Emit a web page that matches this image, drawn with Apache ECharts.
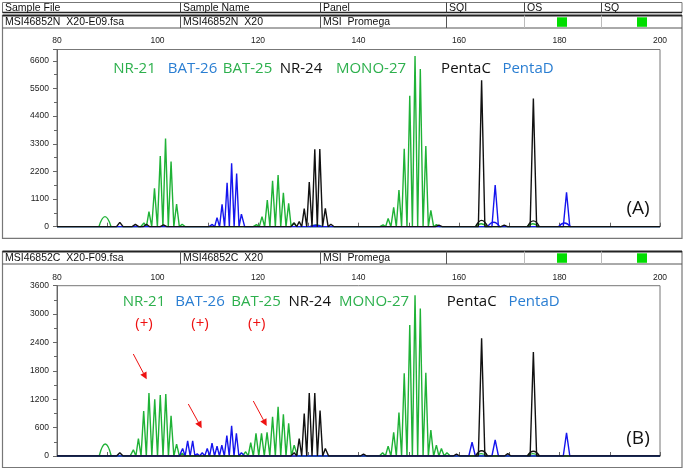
<!DOCTYPE html>
<html><head><meta charset="utf-8">
<script src="https://cdn.jsdelivr.net/npm/echarts@6/dist/echarts.min.js"></script>
<style>html,body{margin:0;padding:0;background:#fff}#c{width:685px;height:470px}</style>
</head><body><div id="c"></div>
<script>
// ---------- tick labels ----------
const xLabels = [80, 100, 120, 140, 160, 180, 200];
const yLabelsA = [0, 1100, 2200, 3300, 4400, 5500, 6600];
const yLabelsB = [0, 600, 1200, 1800, 2400, 3000, 3600];

// ---------- header texts ----------
const headerCols = ['Sample File', 'Sample Name', 'Panel', 'SQI', 'OS', 'SQ'];
const rowA = ['MSI46852N  X20-E09.fsa', 'MSI46852N  X20', 'MSI  Promega'];
const rowB = ['MSI46852C  X20-F09.fsa', 'MSI46852C  X20', 'MSI  Promega'];

// ---------- marker names ----------
const markers = ['NR-21', 'BAT-26', 'BAT-25', 'NR-24', 'MONO-27', 'PentaC', 'PentaD'];
const markerDye = ['green', 'blue', 'green', 'black', 'green', 'black', 'blue'];
const statusB = ['(+)', '(+)', '(+)'];

// ---------- panel A peaks (size in bp, height in RFU) ----------
const A_green_size = [97.3, 98.3, 99.4, 100.55, 101.6, 102.7, 103.8, 104.9, 119.7, 120.8, 121.85, 122.9, 124.0, 125.05, 126.1, 127.1, 144.9, 145.9, 147.0, 148.05, 149.1, 150.2, 151.25, 152.3, 153.4, 154.4, 155.5];
const A_green_rfu  = [150, 600, 1530, 2810, 3510, 2590, 900, 100, 80, 400, 1060, 1830, 2060, 1350, 930, 150, 70, 330, 770, 1460, 3100, 5210, 6790, 6270, 3210, 650, 80];
const A_green_broad_size = [89.55, 131.6, 164.4, 174.7];
const A_green_broad_rfu  = [400, 70, 120, 120];
const A_blue_size = [110.9, 111.85, 112.85, 113.85, 114.75, 115.75, 116.7, 167.2, 181.4];
const A_blue_rfu  = [90, 360, 890, 1750, 2520, 2120, 500, 1660, 1370];
const A_blue_broad_size = [131.5, 166.9, 181.0];
const A_blue_broad_rfu  = [60, 180, 150];
const A_black_size = [92.5, 95.6, 97.8, 101.2, 127.2, 128.2, 129.2, 130.2, 131.3, 132.3, 133.4, 134.5, 156.0, 164.5, 169.0, 174.8];
const A_black_rfu  = [175, 90, 100, 70, 150, 200, 720, 1780, 3080, 3090, 730, 100, 60, 5830, 60, 5100];
const A_black_broad_size = [164.5, 174.8];
const A_black_broad_rfu  = [250, 230];

// ---------- panel B peaks ----------
const B_green_size = [95.2, 96.2, 97.25, 98.3, 99.45, 100.55, 101.65, 102.7, 103.8, 104.9, 117.55, 118.55, 119.6, 120.7, 121.8, 122.9, 124.0, 125.05, 126.1, 127.2, 144.8, 145.9, 147.0, 148.05, 149.1, 150.2, 151.25, 152.3, 153.4, 154.4, 155.5, 156.5, 157.6];
const B_green_rfu  = [130, 370, 950, 1330, 1200, 1290, 1310, 850, 250, 60, 90, 280, 480, 480, 500, 830, 1040, 880, 690, 230, 70, 210, 500, 920, 1750, 2770, 3400, 3120, 1760, 550, 230, 160, 70];
const B_green_broad_size = [89.6, 164.4, 174.7];
const B_green_broad_rfu  = [254, 50, 50];
const B_blue_size = [105.0, 106.0, 107.0, 107.9, 108.9, 109.9, 110.85, 111.85, 112.8, 113.8, 114.75, 115.7, 116.7, 162.6, 167.2, 181.4];
const B_blue_rfu  = [160, 320, 320, 50, 70, 160, 270, 210, 230, 430, 640, 480, 70, 290, 340, 490];
const B_black_size = [92.5, 127.2, 128.2, 129.2, 130.2, 131.3, 132.35, 133.4, 141.0, 159.5, 164.5, 169.7, 174.8];
const B_black_rfu  = [70, 70, 370, 900, 1330, 1330, 960, 160, 40, 40, 2490, 50, 2200];
const B_black_broad_size = [164.5, 174.8];
const B_black_broad_rfu  = [110, 100];

// ---------- styles ----------
const TRACE = { green: '#1fb236', blue: '#1515ee', black: '#111111' };
const TXT = { green: '#2db04d', blue: '#2a7ed2', black: '#111111' };
const FONT_SANS = '"Liberation Sans", Arial, sans-serif';
const FONT_NOTE = '"Open Sans", "Noto Sans", sans-serif';
const PEAK_HW = 0.65, BROAD_HW = 1.2;

// build a trace polyline from peak list: baseline -> apex -> baseline
function trace(sizes, rfu, hw) {
  const pk = sizes.map((s, i) => [s, rfu[i]]).sort((a, b) => a[0] - b[0]);
  const pts = [[80, 0]];
  pk.forEach((p, i) => {
    const last = pts[pts.length - 1];
    if (p[0] - hw > last[0]) pts.push([p[0] - hw, 0]);
    pts.push(p);
    const nx = pk[i + 1];
    if (nx && nx[0] - hw < p[0] + hw) pts.push([(p[0] + nx[0]) / 2, 0]);
    else pts.push([p[0] + hw, 0]);
  });
  pts.push([200, 0]);
  return pts;
}
function broad(sizes, rfu, hw) {
  return sizes.map((s, i) => [[s - hw, 0], [s, rfu[i]], [s + hw, 0]]);
}

const grids = [
  { left: 57, top: 49.5, width: 603, height: 177.2 },
  { left: 57, top: 285.7, width: 603, height: 170.3 }
];

function xAx(gi) {
  return {
    type: 'value', gridIndex: gi, position: 'top', min: 80, max: 200, interval: 10,
    axisLine: { show: true, lineStyle: { color: '#666', width: 1 } },
    axisTick: { show: true, inside: false, length: 4, lineStyle: { color: '#666' } },
    axisLabel: { formatter: v => xLabels.includes(v) ? String(v) : '', fontSize: 8.5, color: '#222', margin: 4, fontFamily: FONT_SANS },
    splitLine: { show: false }
  };
}
function yAx(gi, labels) {
  return {
    type: 'value', gridIndex: gi, min: 0, max: gi === 0 ? 7050 : labels[labels.length - 1], interval: labels[1] - labels[0],
    axisLine: { show: true, lineStyle: { color: '#666', width: 1 } },
    axisTick: { show: true, inside: false, length: 4, lineStyle: { color: '#666' } },
    minorTick: { show: true, splitNumber: 2, length: 3, lineStyle: { color: '#666' } },
    axisLabel: { formatter: v => labels.includes(v) ? String(v) : '', fontSize: 8.5, color: '#222', margin: 8, fontFamily: FONT_SANS },
    splitLine: { show: false }
  };
}

function lineSeries(gi, data, color, smooth) {
  return {
    type: 'line', xAxisIndex: gi, yAxisIndex: gi, data: data, showSymbol: false, symbol: 'none',
    smooth: smooth ? 0.5 : false, lineStyle: { color: color, width: 1.4 }, itemStyle: { color: color },
    animation: false, silent: true, clip: true
  };
}

const series = [];
[
  { gb: [A_green_broad_size, A_green_broad_rfu], g: [A_green_size, A_green_rfu], bb: [A_blue_broad_size, A_blue_broad_rfu], b: [A_blue_size, A_blue_rfu], kb: [A_black_broad_size, A_black_broad_rfu], k: [A_black_size, A_black_rfu] },
  { gb: [B_green_broad_size, B_green_broad_rfu], g: [B_green_size, B_green_rfu], bb: [[], []], b: [B_blue_size, B_blue_rfu], kb: [B_black_broad_size, B_black_broad_rfu], k: [B_black_size, B_black_rfu] }
].forEach((d, gi) => {
  broad(d.gb[0], d.gb[1], BROAD_HW).forEach(b => series.push(lineSeries(gi, b, TRACE.green, true)));
  series.push(lineSeries(gi, trace(d.g[0], d.g[1], PEAK_HW), TRACE.green, false));
  broad(d.bb[0], d.bb[1], BROAD_HW).forEach(b => series.push(lineSeries(gi, b, TRACE.blue, true)));
  series.push(lineSeries(gi, trace(d.b[0], d.b[1], PEAK_HW), TRACE.blue, false));
  broad(d.kb[0], d.kb[1], BROAD_HW).forEach(b => series.push(lineSeries(gi, b, TRACE.black, true)));
  series.push(lineSeries(gi, trace(d.k[0], d.k[1], PEAK_HW), TRACE.black, false));
});

// ---------- graphics (tables, frames, annotations) ----------
const G = [];
const colX = [180, 320, 446, 524, 601];
const textX = [5, 183, 323, 449, 527, 604];
function ln(x1, y1, x2, y2, stroke, w) { G.push({ type: 'line', silent: true, shape: { x1, y1, x2, y2 }, style: { stroke, lineWidth: w } }); }
function rc(x, y, w, h, stroke, lw, fill) { G.push({ type: 'rect', silent: true, shape: { x, y, width: w, height: h }, style: { fill: fill || 'none', stroke: stroke || 'none', lineWidth: lw || 0 } }); }
function tx(x, y, text, color, font, align) { G.push({ type: 'text', silent: true, x, y, style: { text, fill: color, font, align: align || 'left', verticalAlign: 'middle' } }); }

// header row
rc(2.5, 2.5, 679.5, 10, '#777', 1);
ln(2.5, 12.5, 682, 12.5, '#222', 1.5);
colX.forEach(x => ln(x + 0.5, 2.5, x + 0.5, 12.5, '#444', 1));
headerCols.forEach((t, i) => tx(textX[i], 8, t, '#111', '10.5px ' + FONT_SANS));

function panelRow(y0, yBottom, rowTexts) {
  rc(2.5, y0, 679.5, yBottom - y0, '#777', 1.2);
  ln(2.5, y0, 682, y0, '#222', 1.8);
  ln(2.5, y0 + 12.5, 682, y0 + 12.5, '#555', 1);
  colX.forEach((x, i) => ln(x + 0.5, y0, x + 0.5, y0 + 12.5, i < 3 ? '#555' : '#bbb', 1));
  rowTexts.forEach((t, i) => tx(textX[i], y0 + 6.8, t, '#111', '10.5px ' + FONT_SANS));
  rc(557, y0 + 1.8, 10, 9.5, null, 0, '#00dd00');
  rc(637, y0 + 1.8, 10, 9.5, null, 0, '#00dd00');
}
panelRow(15.5, 238.3, rowA);
panelRow(251.5, 467.5, rowB);

// marker labels
const labelXA = [134.5, 192.5, 247.5, 301, 371, 466, 528];
const labelXB = [144, 200, 256, 309.7, 374, 471.7, 534];
markers.forEach((m, i) => {
  tx(labelXA[i], 69, m, TXT[markerDye[i]], '15px ' + FONT_NOTE, 'center');
  tx(labelXB[i], 301.5, m, TXT[markerDye[i]], '15px ' + FONT_NOTE, 'center');
});
const statusX = [144, 200, 256.7];
statusB.forEach((s, i) => tx(statusX[i], 323.5, s, '#ee1111', '15px ' + FONT_NOTE, 'center'));
tx(638, 209, '(A)', '#111', '19px ' + FONT_NOTE, 'center');
tx(638, 439, '(B)', '#111', '19px ' + FONT_NOTE, 'center');

// red arrows
function arrow(x1, y1, x2, y2) {
  const dx = x2 - x1, dy = y2 - y1, L = Math.hypot(dx, dy), ux = dx / L, uy = dy / L, hl = 7, hw = 3.5;
  const bx = x2 - ux * hl, by = y2 - uy * hl;
  ln(x1, y1, bx, by, '#ee1111', 1);
  G.push({ type: 'polygon', silent: true, shape: { points: [[x2, y2], [bx - uy * hw, by + ux * hw], [bx + uy * hw, by - ux * hw]] }, style: { fill: '#ee1111' } });
}
arrow(133.3, 354, 146.7, 379.3);
arrow(188.3, 404, 201.7, 428.3);
arrow(253.3, 401, 266.7, 426);

const chart = echarts.init(document.getElementById('c'), null, { renderer: 'canvas' });
chart.setOption({
  animation: false,
  backgroundColor: '#fff',
  grid: grids.map(g => Object.assign({ show: true, borderColor: '#777', borderWidth: 1, backgroundColor: 'transparent', containLabel: false }, g)),
  xAxis: [xAx(0), xAx(1)],
  yAxis: [yAx(0, yLabelsA), yAx(1, yLabelsB)],
  series: series,
  graphic: { elements: G }
});
</script></body></html>
